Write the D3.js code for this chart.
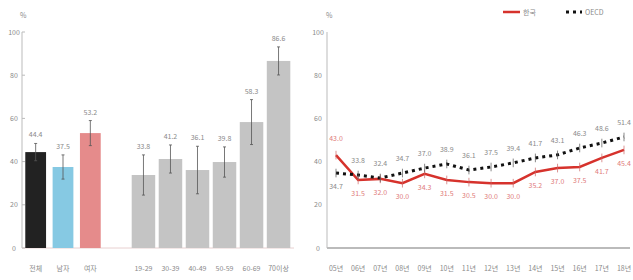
<!DOCTYPE html>
<html><head><meta charset="utf-8">
<script src="https://cdn.jsdelivr.net/npm/d3@7"></script>
<style>body{margin:0;background:#fff}svg{display:block;font-family:"Noto Sans CJK KR","Noto Sans",sans-serif}</style>
</head><body><svg id="c" width="633" height="280"></svg>
<script>
// ---- data ----
const sexCats = ["전체", "남자", "여자"];
const sexVals = [44.4, 37.5, 53.2];
const sexErr = [4.0, 5.6, 5.8];
const ageCats = ["19-29", "30-39", "40-49", "50-59", "60-69", "70이상"];
const ageVals = [33.8, 41.2, 36.1, 39.8, 58.3, 86.6];
const ageErr = [9.3, 6.5, 11.0, 7.0, 10.4, 6.5];
const yTicks = [0, 20, 40, 60, 80, 100];
const years = ["05년","06년","07년","08년","09년","10년","11년","12년","13년","14년","15년","16년","17년","18년"];
const redVals = [43.0, 31.5, 32.0, 30.0, 34.3, 31.5, 30.5, 30.0, 30.0, 35.2, 37.0, 37.5, 41.7, 45.4];
const blackVals = [34.7, 33.8, 32.4, 34.7, 37.0, 38.9, 36.1, 37.5, 39.4, 41.7, 43.1, 46.3, 48.6, 51.4];
const seriesNames = ["한국", "OECD"];

const svg = d3.select("#c");
const gray = "#8a8a8a";
const fs = 7;

// ---- left chart ----
const yL = d3.scaleLinear().domain([0, 100]).range([248, 32]);
const gL = svg.append("g");
gL.append("line").attr("x1", 22).attr("x2", 22).attr("y1", yL(100)).attr("y2", yL(0)).attr("stroke", "#bbb");
gL.append("line").attr("x1", 22).attr("x2", 294).attr("y1", yL(0)).attr("y2", yL(0)).attr("stroke", "#e8d0d0");
gL.selectAll(".yt").data(yTicks).join("text").attr("x", 14).attr("y", d => yL(d) + 2.5)
  .attr("text-anchor", "middle").attr("font-size", fs).attr("fill", gray).text(d => d);
gL.selectAll(".ytk").data(yTicks).join("line").attr("x1", 22).attr("x2", 25).attr("y1", d => yL(d)).attr("y2", d => yL(d)).attr("stroke", "#bbb");
gL.append("text").attr("x", 20).attr("y", 18).attr("font-size", fs).attr("fill", gray).text("%");

const xSex = d3.scaleBand().domain(sexCats).range([22, 104]).paddingInner(0.24).paddingOuter(0.12);
const xAge = d3.scaleBand().domain(ageCats).range([129, 293]).paddingInner(0.13).paddingOuter(0.1);
const sexColors = ["#222222", "#86c9e3", "#e58b8b"];

function drawBars(scale, cats, vals, errs, colors) {
  cats.forEach((c, i) => {
    const x = scale(c), w = scale.bandwidth(), cx = x + w / 2;
    gL.append("rect").attr("x", x).attr("y", yL(vals[i])).attr("width", w).attr("height", yL(0) - yL(vals[i])).attr("fill", colors[i]);
    const hi = yL(vals[i] + errs[i]), lo = yL(vals[i] - errs[i]);
    gL.append("line").attr("x1", cx).attr("x2", cx).attr("y1", hi).attr("y2", lo).attr("stroke", "#555").attr("stroke-width", 0.8);
    [hi, lo].forEach(yy => gL.append("line").attr("x1", cx - 1.5).attr("x2", cx + 1.5).attr("y1", yy).attr("y2", yy).attr("stroke", "#555").attr("stroke-width", 0.8));
    gL.append("text").attr("x", cx).attr("y", hi - 6).attr("text-anchor", "middle").attr("font-size", fs).attr("fill", gray).text(vals[i].toFixed(1));
    gL.append("text").attr("x", cx).attr("y", 271).attr("text-anchor", "middle").attr("font-size", fs).attr("fill", gray).text(c);
  });
}
drawBars(xSex, sexCats, sexVals, sexErr, sexColors);
drawBars(xAge, ageCats, ageVals, ageErr, ageCats.map(() => "#c4c4c4"));

// ---- right chart ----
const yR = d3.scaleLinear().domain([0, 100]).range([248, 32]);
const xR = d3.scalePoint().domain(years).range([336, 624]);
const gR = svg.append("g");
gR.append("line").attr("x1", 327).attr("x2", 327).attr("y1", yR(100)).attr("y2", yR(0)).attr("stroke", "#bbb");
gR.append("line").attr("x1", 327).attr("x2", 630).attr("y1", yR(0)).attr("y2", yR(0)).attr("stroke", "#bbb").attr("stroke-width", 2);
gR.selectAll(".yt").data(yTicks).join("text").attr("x", 318).attr("y", d => yR(d) + 2.5)
  .attr("text-anchor", "middle").attr("font-size", fs).attr("fill", gray).text(d => d);
gR.append("text").attr("x", 326).attr("y", 18).attr("font-size", fs).attr("fill", gray).text("%");
gR.selectAll(".xl").data(years).join("text").attr("x", d => xR(d)).attr("y", 271)
  .attr("text-anchor", "middle").attr("font-size", fs).attr("fill", gray).text(d => d);

const line = vals => d3.line().x((d, i) => xR(years[i])).y(d => yR(d))(vals);
gR.append("path").attr("d", line(redVals)).attr("fill", "none").attr("stroke", "#d6322c").attr("stroke-width", 2.5);
gR.append("path").attr("d", line(blackVals)).attr("fill", "none").attr("stroke", "#111").attr("stroke-width", 3).attr("stroke-dasharray", "3,4");

years.forEach((yr, i) => {
  const cx = xR(yr);
  [[redVals[i], "#c66"], [blackVals[i], "#555"]].forEach(([v, c]) => {
    gR.append("line").attr("x1", cx).attr("x2", cx).attr("y1", yR(v + 2)).attr("y2", yR(v - 2)).attr("stroke", c).attr("stroke-width", 0.7);
  });
  const redAbove = i === 0;
  const yRed = redAbove ? yR(redVals[i]) - 14 : yR(redVals[i]) + 16;
  const yBlk = redAbove ? yR(blackVals[i]) + 16 : yR(blackVals[i]) - 12;
  gR.append("text").attr("x", cx).attr("y", yRed).attr("text-anchor", "middle").attr("font-size", fs).attr("fill", "#e07b7b").text(redVals[i].toFixed(1));
  gR.append("text").attr("x", cx).attr("y", yBlk).attr("text-anchor", "middle").attr("font-size", fs).attr("fill", gray).text(blackVals[i].toFixed(1));
});

// legend
const lg = svg.append("g");
lg.append("line").attr("x1", 503).attr("x2", 520).attr("y1", 12).attr("y2", 12).attr("stroke", "#d6322c").attr("stroke-width", 2.5);
lg.append("text").attr("x", 523).attr("y", 15).attr("font-size", fs).attr("fill", gray).text(seriesNames[0]);
lg.append("line").attr("x1", 566).attr("x2", 582).attr("y1", 12).attr("y2", 12).attr("stroke", "#111").attr("stroke-width", 3).attr("stroke-dasharray", "3,4");
lg.append("text").attr("x", 585).attr("y", 15).attr("font-size", fs).attr("fill", gray).text(seriesNames[1]);
</script></body></html>
